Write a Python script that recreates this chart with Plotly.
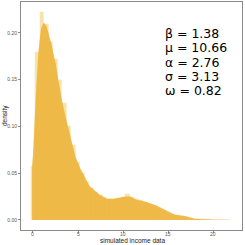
import plotly.graph_objects as go

# histogram (bin centres, density)
bin_centers = [i * 0.5 for i in range(45)]
bin_density = [0.058, 0.18, 0.222, 0.21, 0.19, 0.172, 0.15, 0.125, 0.1, 0.08,
               0.062, 0.05, 0.04, 0.034, 0.03, 0.027, 0.024, 0.022, 0.022, 0.023,
               0.025, 0.028, 0.024, 0.022, 0.021, 0.019, 0.017, 0.015, 0.012, 0.01,
               0.006, 0.005, 0.005, 0.004, 0.002, 0.0015, 0.001, 0.0008, 0.0006, 0.0005,
               0.0004, 0.0003, 0.0002, 0.0002, 0.0001]

# kernel density curve
dens_x = [-0.1, 0.0, 0.3, 0.6, 0.9, 1.2, 1.5, 2.0, 2.5, 2.8, 3.2, 3.7, 4.1, 4.7, 5.2,
          6.0, 6.3, 7.4, 8.2, 8.9, 9.7, 10.3, 10.8, 11.5, 12.4, 13.6, 14.7, 15.8,
          16.9, 18.0, 19.0, 20.0, 21.0, 21.9]
dens_y = [0.058, 0.07, 0.13, 0.18, 0.205, 0.211, 0.207, 0.19, 0.168, 0.15, 0.128,
          0.107, 0.09, 0.068, 0.056, 0.041, 0.036, 0.027, 0.0226, 0.0226, 0.024,
          0.025, 0.025, 0.0215, 0.0197, 0.016, 0.0107, 0.0054, 0.0043, 0.0012,
          0.0006, 0.0004, 0.0002, 0.0001]

x_ticks = [0, 5, 10, 15, 20]
x_tick_labels = ["0", "5", "10", "15", "20"]
y_ticks = [0.0, 0.05, 0.10, 0.15, 0.20]
y_tick_labels = ["0.00", "0.05", "0.10", "0.15", "0.20"]

param_lines = ["β = 1.38", "μ = 10.66", "α = 2.76", "σ = 3.13", "ω = 0.82"]

fig = go.Figure()
fig.add_trace(go.Scatter(x=dens_x, y=dens_y, mode="lines", fill="tozeroy",
                         line=dict(color="rgba(0,0,0,0)", width=0),
                         fillcolor="rgba(236,178,52,0.85)", hoverinfo="skip"))
fig.add_trace(go.Bar(x=bin_centers, y=bin_density, width=0.5,
                     marker=dict(color="rgba(240,190,70,0.45)",
                                 line=dict(color="rgba(255,255,255,0.35)", width=0.5))))

L, R, T, B = 21, 3, 2, 15
W = H = 245
pw = W - L - R
ph = H - T - B


def px_x(px):
    return (px - L) / pw


def px_y(py):
    return (H - B - py) / ph


row_y = [33, 48, 62, 76, 90]
for txt, py in zip(param_lines, row_y):
    fig.add_annotation(x=px_x(163), y=px_y(py), xref="paper", yref="paper",
                       text=txt, showarrow=False, xanchor="left", yanchor="middle",
                       font=dict(family="DejaVu Sans", size=12.5, color="black"))

# x tick labels placed through the x axis scale
for v, lab in zip(x_ticks, x_tick_labels):
    fig.add_annotation(x=v, y=px_y(234.5), xref="x", yref="paper", text=lab,
                       showarrow=False, xanchor="center", yanchor="middle",
                       font=dict(family="Liberation Sans", size=5, color="#555555"))

fig.add_annotation(x=px_x(132), y=px_y(240.8), xref="paper", yref="paper",
                   text="simulated income data", showarrow=False,
                   xanchor="center", yanchor="middle",
                   font=dict(family="Liberation Sans", size=6.5, color="#222222"))
fig.add_annotation(x=px_x(5), y=px_y(116), xref="paper", yref="paper",
                   text="density", showarrow=False, textangle=-90,
                   xanchor="center", yanchor="middle",
                   font=dict(family="Liberation Sans", size=6.5, color="#222222"))

axis_common = dict(showline=True, linecolor="#8a8a8a", linewidth=1, mirror=True,
                   showgrid=False, zeroline=False, ticks="outside", ticklen=2,
                   tickcolor="#8a8a8a", automargin=False,
                   tickfont=dict(family="Liberation Sans", size=5, color="#555555"))

fig.update_layout(
    width=W, height=H, margin=dict(l=L, r=R, t=T, b=B, autoexpand=False),
    paper_bgcolor="white", plot_bgcolor="white", showlegend=False, bargap=0,
    xaxis=dict(range=[-1.33, 23.2], tickvals=x_ticks, showticklabels=False,
               **axis_common),
    yaxis=dict(range=[-0.0108, 0.233], tickvals=y_ticks, ticktext=y_tick_labels,
               **axis_common),
)
fig.write_html("out.html", config={"displayModeBar": False},
               post_script="document.body.style.margin='0';")
